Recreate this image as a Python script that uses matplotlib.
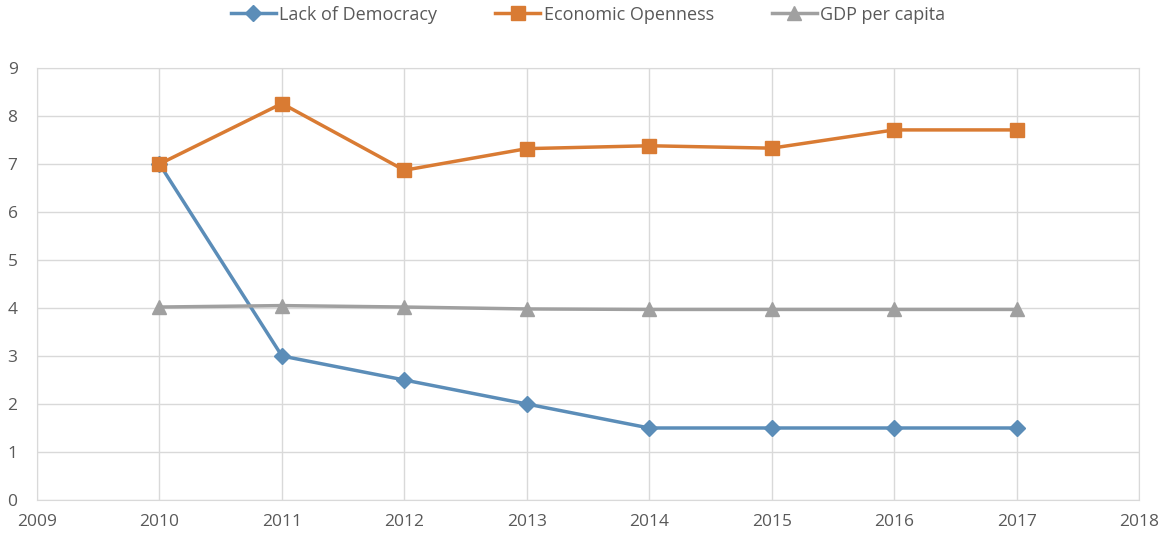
import numpy as np
import matplotlib
matplotlib.use("Agg")
import matplotlib.pyplot as plt

years = [2010, 2011, 2012, 2013, 2014, 2015, 2016, 2017]
lack_of_democracy = [7.0, 3.0, 2.5, 2.0, 1.5, 1.5, 1.5, 1.5]
economic_openness = [7.0, 8.26, 6.87, 7.32, 7.38, 7.33, 7.71, 7.71]
gdp_per_capita = [4.02, 4.05, 4.02, 3.98, 3.97, 3.97, 3.97, 3.97]

plt.rcParams['font.family'] = ['Open Sans', 'DejaVu Sans']

fig = plt.figure(figsize=(11.65, 5.44), dpi=100)
ax = fig.add_axes([0.0318, 0.0809, 0.9459, 0.7941])

ax.plot(years, lack_of_democracy, color='#5B8DB8', lw=2.5, marker='D', ms=8,
        label='Lack of Democracy')
ax.plot(years, economic_openness, color='#D97B33', lw=2.5, marker='s', ms=10,
        label='Economic Openness')
ax.plot(years, gdp_per_capita, color='#A0A0A0', lw=2.5, marker='^', ms=10,
        label='GDP per capita')

ax.set_xlim(2009, 2018)
ax.set_ylim(0, 9)
ax.set_xticks(range(2009, 2019))
ax.set_yticks(range(0, 10))
ax.grid(True, color='#D9D9D9', lw=1)
ax.set_axisbelow(True)
for s in ax.spines.values():
    s.set_color('#D9D9D9')
ax.tick_params(length=0, labelsize=12.5, colors='#595959', pad=10)
ax.tick_params(axis='y', pad=14)

ax.legend(loc='lower center', bbox_to_anchor=(0.5, 1.065), ncol=3, frameon=False,
          fontsize=13, labelcolor='#595959', handlelength=2.5, columnspacing=3.2,
          handletextpad=0.2)

fig.savefig('out.png', dpi=100)
